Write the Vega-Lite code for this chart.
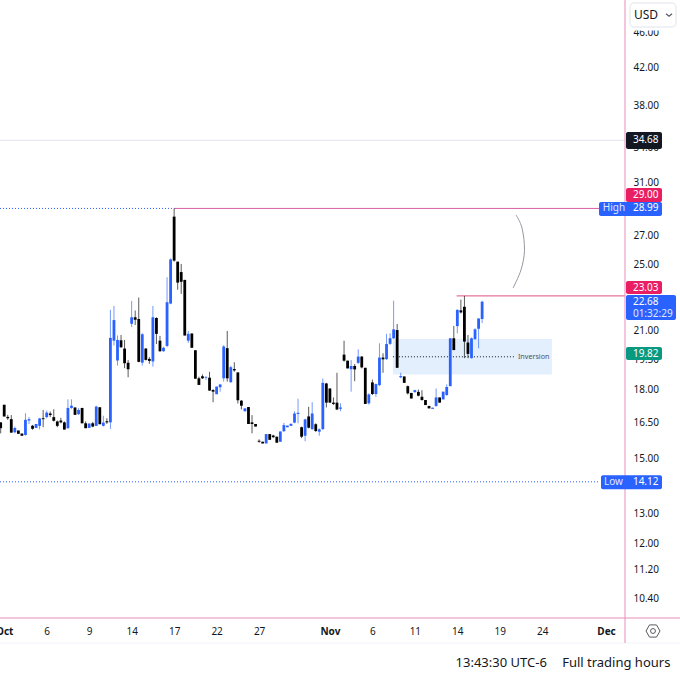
{
  "$schema": "https://vega.github.io/schema/vega-lite/v6.json",
  "width": 625,
  "height": 618,
  "autosize": "none",
  "padding": {"left": 0, "top": 0, "right": 55, "bottom": 57},
  "background": "white",
  "config": {"view": {"stroke": null}, "legend": {"disable": true}, "scale": {"continuousPadding": 0}, "text": {"font": "Noto Sans"}},
  "datasets": {
    "candles": [
      {"bar":1,"open":16.51,"high":16.51,"low":16.04,"close":16.26},
      {"bar":2,"open":17.29,"high":17.29,"low":16.77,"close":16.77},
      {"bar":3,"open":16.75,"high":16.84,"low":16.62,"close":16.69},
      {"bar":4,"open":16.65,"high":16.83,"low":16.07,"close":16.07},
      {"bar":5,"open":16.09,"high":16.33,"low":16.04,"close":16.27},
      {"bar":6,"open":16.16,"high":16.16,"low":16.02,"close":16.02},
      {"bar":7,"open":16.03,"high":16.03,"low":15.94,"close":15.94},
      {"bar":8,"open":15.97,"high":16.91,"low":15.94,"close":16.62},
      {"bar":9,"open":16.59,"high":16.74,"low":16.44,"close":16.65},
      {"bar":10,"open":16.36,"high":16.40,"low":16.19,"close":16.24},
      {"bar":11,"open":16.27,"high":16.44,"low":16.27,"close":16.44},
      {"bar":12,"open":16.36,"high":16.71,"low":16.21,"close":16.68},
      {"bar":13,"open":16.69,"high":17.06,"low":16.30,"close":16.65},
      {"bar":14,"open":16.74,"high":17.03,"low":16.69,"close":16.94},
      {"bar":15,"open":16.90,"high":16.99,"low":16.74,"close":16.83},
      {"bar":16,"open":16.74,"high":17.09,"low":16.55,"close":16.58},
      {"bar":17,"open":16.55,"high":16.59,"low":16.30,"close":16.36},
      {"bar":18,"open":16.59,"high":16.71,"low":16.47,"close":16.51},
      {"bar":19,"open":16.51,"high":16.55,"low":16.20,"close":16.20},
      {"bar":20,"open":16.26,"high":17.54,"low":16.23,"close":17.15},
      {"bar":21,"open":17.15,"high":17.54,"low":17.11,"close":17.25},
      {"bar":22,"open":17.17,"high":17.17,"low":16.84,"close":16.84},
      {"bar":23,"open":16.87,"high":17.14,"low":16.84,"close":17.06},
      {"bar":24,"open":17.15,"high":17.15,"low":16.47,"close":16.47},
      {"bar":25,"open":16.47,"high":16.55,"low":16.26,"close":16.26},
      {"bar":26,"open":16.27,"high":16.46,"low":16.27,"close":16.46},
      {"bar":27,"open":16.47,"high":16.53,"low":16.30,"close":16.33},
      {"bar":28,"open":16.36,"high":17.25,"low":16.36,"close":17.21},
      {"bar":29,"open":17.18,"high":17.18,"low":16.43,"close":16.43},
      {"bar":30,"open":16.36,"high":16.80,"low":16.33,"close":16.50},
      {"bar":31,"open":16.56,"high":16.69,"low":16.44,"close":16.51},
      {"bar":32,"open":16.51,"high":22.20,"low":16.23,"close":20.62},
      {"bar":33,"open":20.47,"high":22.43,"low":20.21,"close":21.61},
      {"bar":34,"open":19.43,"high":20.75,"low":19.17,"close":20.51},
      {"bar":35,"open":20.49,"high":20.78,"low":20.09,"close":20.12},
      {"bar":36,"open":20.05,"high":20.51,"low":19.04,"close":19.29},
      {"bar":37,"open":19.32,"high":19.46,"low":18.59,"close":18.99},
      {"bar":38,"open":21.40,"high":22.73,"low":21.22,"close":21.77},
      {"bar":39,"open":21.77,"high":22.16,"low":21.33,"close":21.63},
      {"bar":40,"open":21.67,"high":22.93,"low":19.34,"close":19.36},
      {"bar":41,"open":19.32,"high":20.88,"low":19.17,"close":20.82},
      {"bar":42,"open":20.05,"high":20.07,"low":19.43,"close":19.46},
      {"bar":43,"open":19.51,"high":19.60,"low":19.26,"close":19.41},
      {"bar":44,"open":19.38,"high":22.43,"low":19.12,"close":21.77},
      {"bar":45,"open":21.73,"high":21.77,"low":20.29,"close":20.84},
      {"bar":46,"open":20.47,"high":20.73,"low":19.88,"close":19.91},
      {"bar":47,"open":19.91,"high":20.15,"low":19.88,"close":20.09},
      {"bar":48,"open":20.19,"high":24.19,"low":20.12,"close":22.65},
      {"bar":49,"open":22.57,"high":25.42,"low":22.53,"close":25.35},
      {"bar":50,"open":28.37,"high":28.99,"low":25.20,"close":25.27},
      {"bar":51,"open":25.20,"high":25.20,"low":23.41,"close":23.85},
      {"bar":52,"open":24.52,"high":25.05,"low":23.15,"close":23.90},
      {"bar":53,"open":24.02,"high":24.02,"low":20.75,"close":20.75},
      {"bar":54,"open":20.47,"high":21.00,"low":20.35,"close":20.84},
      {"bar":55,"open":20.86,"high":20.86,"low":20.09,"close":20.09},
      {"bar":56,"open":19.96,"high":19.96,"low":18.52,"close":18.52},
      {"bar":57,"open":18.54,"high":18.62,"low":18.22,"close":18.22},
      {"bar":58,"open":18.64,"high":18.73,"low":18.51,"close":18.54},
      {"bar":59,"open":18.56,"high":18.65,"low":18.46,"close":18.59},
      {"bar":60,"open":18.57,"high":18.86,"low":17.95,"close":17.95},
      {"bar":61,"open":17.98,"high":18.01,"low":17.41,"close":17.90},
      {"bar":62,"open":17.78,"high":18.14,"low":17.78,"close":18.14},
      {"bar":63,"open":18.11,"high":18.27,"low":17.90,"close":18.24},
      {"bar":64,"open":18.54,"high":20.23,"low":18.38,"close":20.16},
      {"bar":65,"open":20.07,"high":21.00,"low":18.38,"close":18.54},
      {"bar":66,"open":18.35,"high":19.16,"low":18.33,"close":19.09},
      {"bar":67,"open":19.00,"high":19.34,"low":18.86,"close":18.93},
      {"bar":68,"open":18.83,"high":18.83,"low":17.35,"close":17.50},
      {"bar":69,"open":17.48,"high":17.51,"low":17.08,"close":17.25},
      {"bar":70,"open":17.00,"high":17.13,"low":17.00,"close":17.13},
      {"bar":71,"open":17.19,"high":17.19,"low":16.44,"close":16.44},
      {"bar":72,"open":16.51,"high":16.83,"low":16.04,"close":16.44},
      {"bar":73,"open":16.44,"high":16.44,"low":16.33,"close":16.33},
      {"bar":74,"open":15.73,"high":15.79,"low":15.65,"close":15.69},
      {"bar":75,"open":15.69,"high":15.69,"low":15.62,"close":15.62},
      {"bar":76,"open":15.62,"high":16.01,"low":15.62,"close":16.01},
      {"bar":77,"open":16.01,"high":16.01,"low":15.77,"close":15.77},
      {"bar":78,"open":15.95,"high":15.98,"low":15.84,"close":15.88},
      {"bar":79,"open":15.90,"high":15.90,"low":15.65,"close":15.65},
      {"bar":80,"open":15.69,"high":16.12,"low":15.69,"close":16.12},
      {"bar":81,"open":16.13,"high":16.49,"low":16.10,"close":16.39},
      {"bar":82,"open":16.30,"high":16.37,"low":16.30,"close":16.37},
      {"bar":83,"open":16.36,"high":16.45,"low":16.36,"close":16.45},
      {"bar":84,"open":16.50,"high":17.00,"low":16.47,"close":16.90},
      {"bar":85,"open":16.88,"high":17.57,"low":16.47,"close":16.93},
      {"bar":86,"open":16.30,"high":16.33,"low":15.84,"close":15.90},
      {"bar":87,"open":15.94,"high":16.67,"low":15.71,"close":16.64},
      {"bar":88,"open":16.77,"high":17.20,"low":16.25,"close":16.28},
      {"bar":89,"open":16.22,"high":17.41,"low":16.18,"close":16.90},
      {"bar":90,"open":16.43,"high":16.47,"low":16.10,"close":16.14},
      {"bar":91,"open":16.11,"high":16.25,"low":15.94,"close":16.21},
      {"bar":92,"open":16.22,"high":18.53,"low":16.18,"close":18.32},
      {"bar":93,"open":18.29,"high":18.32,"low":17.17,"close":17.39},
      {"bar":94,"open":18.05,"high":18.05,"low":17.39,"close":17.39},
      {"bar":95,"open":17.39,"high":17.63,"low":17.28,"close":17.33},
      {"bar":96,"open":17.39,"high":18.81,"low":17.05,"close":17.08},
      {"bar":97,"open":17.11,"high":17.36,"low":17.00,"close":17.17},
      {"bar":98,"open":19.73,"high":20.47,"low":19.37,"close":19.42},
      {"bar":99,"open":19.42,"high":19.42,"low":19.03,"close":19.03},
      {"bar":100,"open":18.99,"high":19.45,"low":17.90,"close":19.15},
      {"bar":101,"open":19.15,"high":19.25,"low":18.40,"close":18.98},
      {"bar":102,"open":19.31,"high":20.01,"low":19.25,"close":19.63},
      {"bar":103,"open":19.63,"high":19.66,"low":19.03,"close":19.08},
      {"bar":104,"open":19.06,"high":19.06,"low":17.33,"close":17.33},
      {"bar":105,"open":17.36,"high":17.82,"low":17.30,"close":17.77},
      {"bar":106,"open":18.34,"high":18.48,"low":17.74,"close":17.79},
      {"bar":107,"open":17.79,"high":18.29,"low":17.66,"close":18.26},
      {"bar":108,"open":18.21,"high":20.33,"low":18.16,"close":19.58},
      {"bar":109,"open":19.58,"high":19.80,"low":18.81,"close":19.49},
      {"bar":110,"open":19.50,"high":20.84,"low":19.45,"close":20.29},
      {"bar":111,"open":20.30,"high":20.87,"low":20.24,"close":20.60},
      {"bar":112,"open":20.60,"high":22.74,"low":20.56,"close":21.09},
      {"bar":113,"open":21.05,"high":21.39,"low":19.06,"close":19.06},
      {"bar":114,"open":18.59,"high":18.81,"low":18.54,"close":18.65},
      {"bar":115,"open":18.63,"high":18.63,"low":18.32,"close":18.32},
      {"bar":116,"open":18.16,"high":18.19,"low":17.77,"close":17.82},
      {"bar":117,"open":17.84,"high":17.84,"low":17.58,"close":17.58},
      {"bar":118,"open":17.88,"high":17.99,"low":17.85,"close":17.97},
      {"bar":119,"open":17.89,"high":18.00,"low":17.68,"close":17.71},
      {"bar":120,"open":17.66,"high":17.97,"low":17.48,"close":17.51},
      {"bar":121,"open":17.51,"high":17.51,"low":17.28,"close":17.28},
      {"bar":122,"open":17.24,"high":17.24,"low":17.13,"close":17.13},
      {"bar":123,"open":17.11,"high":17.16,"low":17.11,"close":17.16},
      {"bar":124,"open":17.24,"high":18.05,"low":17.20,"close":17.63},
      {"bar":125,"open":17.63,"high":17.63,"low":17.39,"close":17.39},
      {"bar":126,"open":17.54,"high":17.90,"low":17.54,"close":17.90},
      {"bar":127,"open":17.74,"high":18.25,"low":17.71,"close":18.12},
      {"bar":128,"open":18.16,"high":20.60,"low":18.16,"close":20.60},
      {"bar":129,"open":20.60,"high":21.28,"low":19.97,"close":19.97},
      {"bar":130,"open":21.27,"high":22.22,"low":20.87,"close":22.20},
      {"bar":131,"open":22.17,"high":22.81,"low":21.99,"close":22.05},
      {"bar":132,"open":22.38,"high":23.03,"low":19.55,"close":20.42},
      {"bar":133,"open":20.37,"high":20.78,"low":19.55,"close":19.77},
      {"bar":134,"open":19.55,"high":20.64,"low":19.53,"close":20.60},
      {"bar":135,"open":20.55,"high":21.15,"low":20.53,"close":21.09},
      {"bar":136,"open":21.12,"high":21.72,"low":20.06,"close":21.70},
      {"bar":137,"open":21.67,"high":22.74,"low":21.44,"close":22.68}
    ],
    "levels": [
      {"kind":"last","bar":0.81,"barEnd":177.36,"price":34.68},
      {"kind":"footer","bar":0.81,"barEnd":192.9,"price":9.24},
      {"kind":"frame","bar":0.81,"barEnd":192.9,"price":9.867},
      {"kind":"high","bar":50,"barEnd":177.36,"price":28.99},
      {"kind":"recent","bar":129.8,"barEnd":177.36,"price":23.03}
    ],
    "dotted": [
      {"kind":"level","bar":0.81,"barEnd":50,"price":28.99},
      {"kind":"level","bar":0.81,"barEnd":170.3,"price":14.12},
      {"kind":"ink","bar":111.8,"barEnd":146.3,"price":19.62}
    ],
    "arc": [
      {"step":1,"bar":146.6,"price":28.49},
      {"step":2,"bar":148.27,"price":27.53},
      {"step":3,"bar":148.97,"price":25.98},
      {"step":4,"bar":147.98,"price":24.66},
      {"step":5,"bar":145.72,"price":23.51}
    ],
    "badges": [
      {"kind":"dark","bar":177.64,"barEnd":187.81,"top":35.45,"bottom":33.90,"label":"34.68","labelBar":179.6,"labelPrice":34.68},
      {"kind":"red","bar":177.64,"barEnd":187.81,"top":30.59,"bottom":29.49,"label":"29.00","labelBar":179.6,"labelPrice":30.03},
      {"kind":"blue","bar":170.02,"barEnd":187.81,"top":29.49,"bottom":28.42,"label":"28.99","labelBar":179.6,"labelPrice":28.99},
      {"kind":"red","bar":177.64,"barEnd":187.81,"top":23.95,"bottom":23.14,"label":"23.03","labelBar":179.6,"labelPrice":23.54},
      {"kind":"blue","bar":177.64,"barEnd":191.77,"top":23.08,"bottom":21.62,"label":"22.68","labelBar":179.6,"labelPrice":22.66},
      {"kind":"green","bar":177.64,"barEnd":187.81,"top":20.13,"bottom":19.45,"label":"19.82","labelBar":179.6,"labelPrice":19.79},
      {"kind":"blue","bar":170.58,"barEnd":187.81,"top":14.37,"bottom":13.85,"label":"14.12","labelBar":179.6,"labelPrice":14.12}
    ],
    "badgeNotes": [
      {"label":"High","bar":171.1,"price":28.99},
      {"label":"Low","bar":171.4,"price":14.12},
      {"label":"01:32:29","bar":179.6,"price":21.96}
    ]
  },
  "layer": [
    {
      "data": {"values": [{"bar":111.8,"barEnd":156.7,"top":20.56,"bottom":18.73}]},
      "mark": {"type": "rect", "color": "#e3effd"},
      "encoding": {
        "x": {
          "field": "bar", "type": "quantitative",
          "scale": {"domain": [0.81, 177.36], "nice": false},
          "axis": {
            "orient": "bottom", "title": null, "grid": false, "domain": false, "ticks": false,
            "values": [2,14,26,38,50,62,74,94,106,118,130,142,154,172],
            "labelExpr": "{'2':'Oct','14':'6','26':'9','38':'14','50':'17','62':'22','74':'27','94':'Nov','106':'6','118':'11','130':'14','142':'19','154':'24','172':'Dec'}[datum.value]",
            "labelFontWeight": {"condition": {"test": "datum.value == 2 || datum.value == 94 || datum.value == 172", "value": "bold"}, "value": "normal"},
            "labelFont": "Noto Sans", "labelFontSize": 10, "labelColor": "#131722", "labelPadding": 8,
            "labelOverlap": false, "labelFlush": false, "labelBound": false
          }
        },
        "x2": {"field": "barEnd"},
        "y": {
          "field": "top", "type": "quantitative",
          "scale": {"type": "log", "domain": [9.867, 50.17], "nice": false},
          "axis": {
            "orient": "right", "title": null, "grid": false, "domain": false, "ticks": false,
            "values": [46,42,38,34,31,27,25,21,19.5,18,16.5,15,13,12,11.2,10.4],
            "format": ".2f",
            "labelFont": "Noto Sans", "labelFontSize": 10, "labelColor": "#131722", "labelPadding": 8,
            "labelOverlap": false, "labelFlush": false, "labelBound": false
          }
        },
        "y2": {"field": "bottom"}
      }
    },
    {
      "data": {"name": "levels"},
      "mark": {"type": "rule", "strokeWidth": 1},
      "encoding": {
        "x": {"field": "bar", "type": "quantitative"},
        "x2": {"field": "barEnd"},
        "y": {"field": "price", "type": "quantitative", "scale": {"type": "log"}},
        "color": {
          "field": "kind", "type": "nominal",
          "scale": {
            "domain": ["last","footer","frame","high","recent","level","ink","arc","dark","red","blue","green"],
            "range": ["#e0e3eb","#f0f3fa","#e98dbb","#d85fa5","#e0527f","#2962ff","#131722","#9598a1","#131722","#e91e63","#2962ff","#089981"]
          }
        }
      }
    },
    {
      "data": {"values": [{"kind":"frame","bar":177.36,"top":50.17,"bottom":9.24}]},
      "mark": {"type": "rule", "strokeWidth": 1},
      "encoding": {
        "x": {"field": "bar", "type": "quantitative"},
        "y": {"field": "top", "type": "quantitative", "scale": {"type": "log"}},
        "y2": {"field": "bottom"},
        "color": {"field": "kind", "type": "nominal"}
      }
    },
    {
      "data": {"name": "dotted"},
      "mark": {"type": "rule", "strokeWidth": 1, "strokeDash": [1, 2]},
      "encoding": {
        "x": {"field": "bar", "type": "quantitative"},
        "x2": {"field": "barEnd"},
        "y": {"field": "price", "type": "quantitative", "scale": {"type": "log"}},
        "color": {"field": "kind", "type": "nominal"}
      }
    },
    {
      "data": {"name": "candles"},
      "mark": {"type": "rule", "strokeWidth": 1, "opacity": 0.65},
      "encoding": {
        "x": {"field": "bar", "type": "quantitative"},
        "y": {"field": "low", "type": "quantitative", "scale": {"type": "log"}},
        "y2": {"field": "high"},
        "stroke": {"condition": {"test": "datum.close >= datum.open", "value": "#2962ff"}, "value": "#000000"}
      }
    },
    {
      "data": {"name": "candles"},
      "mark": {"type": "bar", "size": 2.8},
      "encoding": {
        "x": {"field": "bar", "type": "quantitative"},
        "y": {"field": "open", "type": "quantitative", "scale": {"type": "log"}},
        "y2": {"field": "close"},
        "fill": {"condition": {"test": "datum.close >= datum.open", "value": "#2962ff"}, "value": "#000000"}
      }
    },
    {
      "data": {"name": "arc"},
      "mark": {"type": "line", "interpolate": "cardinal", "strokeWidth": 1, "color": "#9598a1"},
      "encoding": {
        "x": {"field": "bar", "type": "quantitative"},
        "y": {"field": "price", "type": "quantitative", "scale": {"type": "log"}},
        "order": {"field": "step"}
      }
    },
    {
      "data": {"values": [{"label":"Inversion","bar":147.1,"price":19.62}]},
      "mark": {"type": "text", "align": "left", "baseline": "middle", "fontSize": 7.2, "color": "#50535e"},
      "encoding": {
        "x": {"field": "bar", "type": "quantitative"},
        "y": {"field": "price", "type": "quantitative", "scale": {"type": "log"}},
        "text": {"field": "label"}
      }
    },
    {
      "data": {"name": "badges"},
      "mark": {"type": "rect", "cornerRadius": 2},
      "encoding": {
        "x": {"field": "bar", "type": "quantitative"},
        "x2": {"field": "barEnd"},
        "y": {"field": "top", "type": "quantitative", "scale": {"type": "log"}},
        "y2": {"field": "bottom"},
        "color": {"field": "kind", "type": "nominal"}
      }
    },
    {
      "data": {"name": "badges"},
      "mark": {"type": "text", "align": "left", "baseline": "middle", "fontSize": 10, "color": "#ffffff"},
      "encoding": {
        "x": {"field": "labelBar", "type": "quantitative"},
        "y": {"field": "labelPrice", "type": "quantitative", "scale": {"type": "log"}},
        "text": {"field": "label"}
      }
    },
    {
      "data": {"name": "badgeNotes"},
      "mark": {"type": "text", "align": "left", "baseline": "middle", "fontSize": 10, "color": "#ffffff", "opacity": 0.85},
      "encoding": {
        "x": {"field": "bar", "type": "quantitative"},
        "y": {"field": "price", "type": "quantitative", "scale": {"type": "log"}},
        "text": {"field": "label"}
      }
    },
    {
      "data": {"values": [{"bar":177.8,"barEnd":192.9,"top":50.17,"bottom":46.3}]},
      "mark": {"type": "rect", "fill": "#ffffff"},
      "encoding": {
        "x": {"field": "bar", "type": "quantitative"},
        "x2": {"field": "barEnd"},
        "y": {"field": "top", "type": "quantitative", "scale": {"type": "log"}},
        "y2": {"field": "bottom"}
      }
    },
    {
      "data": {"values": [{"bar":178.77,"barEnd":191.77,"top":49.78,"bottom":46.73}]},
      "mark": {"type": "rect", "fill": "#ffffff", "stroke": "#e0e3eb", "strokeWidth": 1, "cornerRadius": 4},
      "encoding": {
        "x": {"field": "bar", "type": "quantitative"},
        "x2": {"field": "barEnd"},
        "y": {"field": "top", "type": "quantitative", "scale": {"type": "log"}},
        "y2": {"field": "bottom"}
      }
    },
    {
      "data": {"values": [{"label":"USD","bar":179.9,"price":48.23}]},
      "mark": {"type": "text", "align": "left", "baseline": "middle", "fontSize": 12, "color": "#131722"},
      "encoding": {
        "x": {"field": "bar", "type": "quantitative"},
        "y": {"field": "price", "type": "quantitative", "scale": {"type": "log"}},
        "text": {"field": "label"}
      }
    },
    {
      "data": {"values": [{"bar":189.8,"price":48.23}]},
      "mark": {"type": "point", "shape": "M-1,-0.4L0,0.4L1,-0.4", "size": 36, "filled": false, "stroke": "#131722", "strokeWidth": 1.3},
      "encoding": {
        "x": {"field": "bar", "type": "quantitative"},
        "y": {"field": "price", "type": "quantitative", "scale": {"type": "log"}}
      }
    },
    {
      "data": {"values": [{"bar":185.27,"price":9.535}]},
      "mark": {"type": "point", "shape": "M-1,0L-0.5,-0.87L0.5,-0.87L1,0L0.5,0.87L-0.5,0.87Z", "size": 196, "filled": false, "stroke": "#131722", "strokeWidth": 1},
      "encoding": {
        "x": {"field": "bar", "type": "quantitative"},
        "y": {"field": "price", "type": "quantitative", "scale": {"type": "log"}}
      }
    },
    {
      "data": {"values": [{"bar":185.27,"price":9.535}]},
      "mark": {"type": "point", "shape": "circle", "size": 24, "filled": false, "stroke": "#131722", "strokeWidth": 1},
      "encoding": {
        "x": {"field": "bar", "type": "quantitative"},
        "y": {"field": "price", "type": "quantitative", "scale": {"type": "log"}}
      }
    },
    {
      "data": {"values": [{"label":"13:43:30 UTC-6","bar":129.5,"price":8.77},{"label":"Full trading hours","bar":159.6,"price":8.77}]},
      "mark": {"type": "text", "align": "left", "baseline": "middle", "fontSize": 13, "color": "#131722"},
      "encoding": {
        "x": {"field": "bar", "type": "quantitative"},
        "y": {"field": "price", "type": "quantitative", "scale": {"type": "log"}},
        "text": {"field": "label"}
      }
    }
  ]
}
